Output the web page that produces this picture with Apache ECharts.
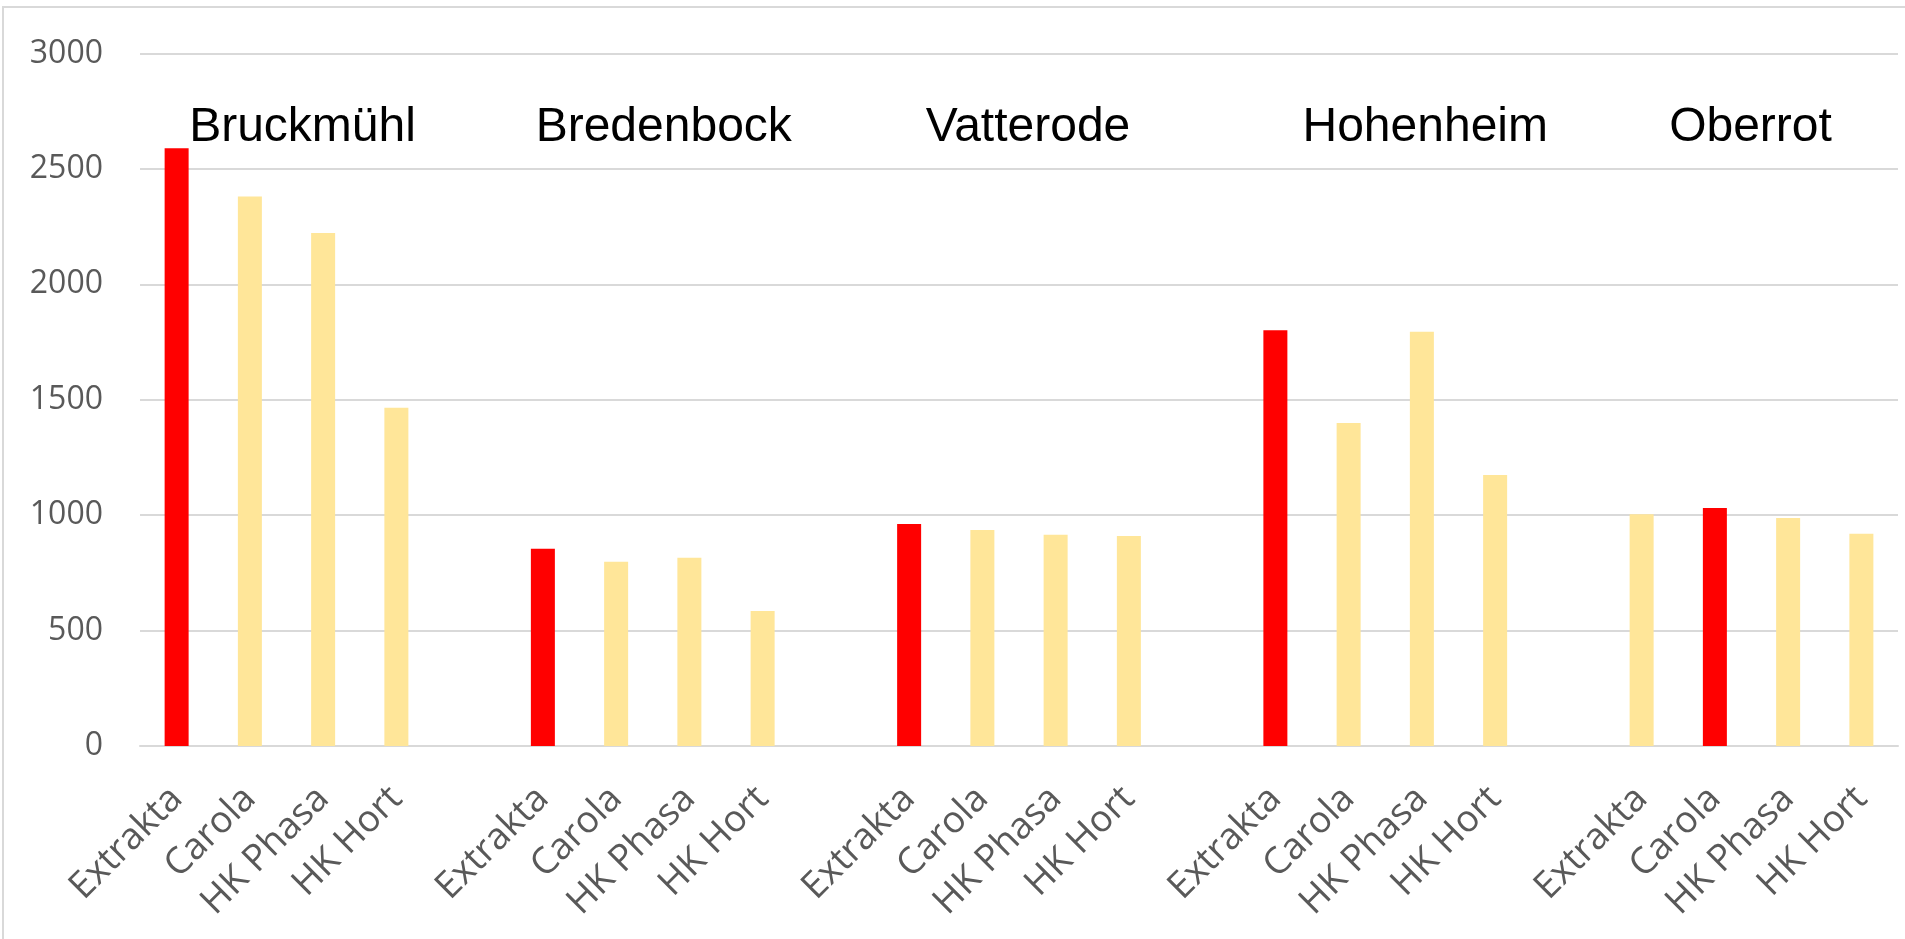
<!DOCTYPE html>
<html>
<head>
<meta charset="utf-8">
<title>Sorten je Standort</title>
<script src="https://cdn.jsdelivr.net/npm/echarts@6/dist/echarts.min.js"></script>
<style>
  html, body { margin: 0; padding: 0; background: #fff; }
  #chart { width: 1905px; height: 939px; }
</style>
</head>
<body>
<div id="chart"></div>
<script>
// Standorte und Sorten
var sites = ['Bruckmühl', 'Bredenbock', 'Vatterode', 'Hohenheim', 'Oberrot'];
var varieties = ['Extrakta', 'Carola', 'HK Phasa', 'HK Hort'];

// Werte je Standort (Reihenfolge wie varieties)
var bruckmuehl = [2590, 2380, 2222, 1465];
var bredenbock = [854, 798, 816, 585];
var vatterode = [962, 936, 915, 910];
var hohenheim = [1801, 1399, 1795, 1174];
var oberrot = [1004, 1031, 988, 920];

// welche Sorte je Standort rot markiert ist
var highlight = [0, 0, 0, 0, 1];

var yTicks = [0, 500, 1000, 1500, 2000, 2500, 3000];

var RED = '#ff0000';
var YELLOW = '#ffe699';

var groups = [bruckmuehl, bredenbock, vatterode, hohenheim, oberrot];
var categories = [];
var seriesData = [];
for (var g = 0; g < groups.length; g++) {
    for (var i = 0; i < varieties.length; i++) {
        categories.push(varieties[i]);
        seriesData.push({
            value: groups[g][i],
            itemStyle: { color: highlight[g] === i ? RED : YELLOW }
        });
    }
    // leere Kategorie als Abstand zwischen den Standorten
    if (g < groups.length - 1) {
        categories.push('');
        seriesData.push('-');
    }
}

var chart = echarts.init(document.getElementById('chart'));

var option = {
    animation: false,
    grid: { left: 140, right: 7, top: 53.5, bottom: 193 },
    xAxis: {
        type: 'category',
        data: categories,
        axisLine: { lineStyle: { color: '#d9d9d9', width: 2 } },
        axisTick: { show: false },
        axisLabel: {
            interval: 0,
            rotate: 45,
            align: 'right',
            verticalAlign: 'middle',
            margin: 47,
            fontFamily: 'Open Sans',
            fontSize: 37,
            color: '#595959'
        }
    },
    yAxis: {
        type: 'value',
        min: yTicks[0],
        max: yTicks[yTicks.length - 1],
        interval: yTicks[1] - yTicks[0],
        axisLine: { show: false },
        axisTick: { show: false },
        splitLine: { lineStyle: { color: '#d9d9d9', width: 2 } },
        axisLabel: {
            margin: 37,
            fontFamily: 'Open Sans',
            fontSize: 32,
            color: '#595959',
            formatter: function (v) { return String(v); }
        }
    },
    series: [{
        type: 'bar',
        barWidth: 24,
        data: seriesData
    }]
};
chart.setOption(option);

// Standortnamen über den Gruppen, wie Textfelder im Original leicht versetzt
var labelShift = [16, 11, 9, 40, -1];
var graphics = [{
    type: 'rect',
    shape: { x: 3, y: 7, width: 2000, height: 1000 },
    style: { fill: 'none', stroke: '#d9d9d9', lineWidth: 2 },
    silent: true
}];
for (var g = 0; g < sites.length; g++) {
    var first = chart.convertToPixel({ xAxisIndex: 0 }, g * 5 + 1);
    var second = chart.convertToPixel({ xAxisIndex: 0 }, g * 5 + 2);
    graphics.push({
        type: 'text',
        x: (first + second) / 2 + labelShift[g],
        y: 128,
        style: {
            text: sites[g],
            fontFamily: 'Liberation Sans, Arial, sans-serif',
            fontSize: 48,
            fill: '#000000',
            align: 'center',
            verticalAlign: 'middle'
        }
    });
}
chart.setOption({ graphic: graphics });
</script>
</body>
</html>
